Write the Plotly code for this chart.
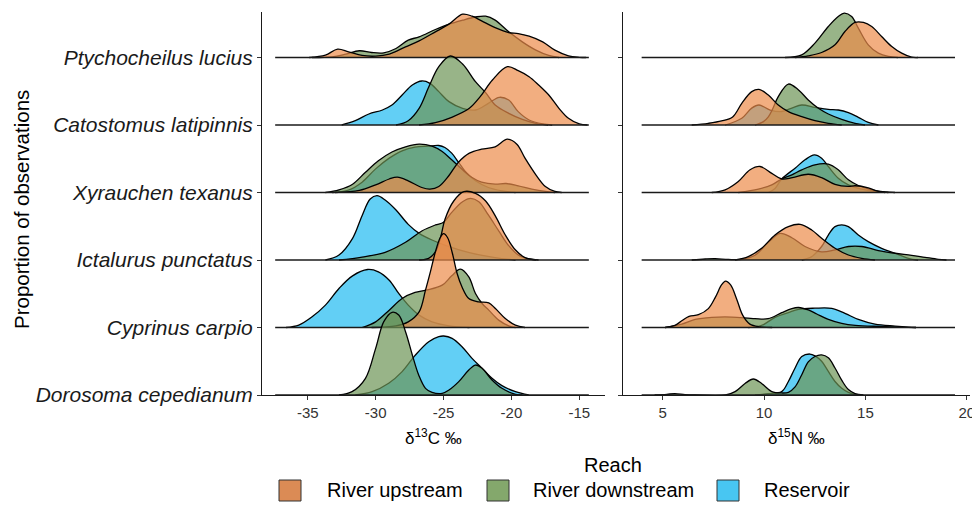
import plotly.graph_objects as go

# ---------------- DATA ----------------
SPECIES = ["Dorosoma cepedianum", "Cyprinus carpio", "Ictalurus punctatus",
           "Xyrauchen texanus", "Catostomus latipinnis", "Ptychocheilus lucius"]  # bottom -> top
REACHES = ["River upstream", "River downstream", "Reservoir"]
X_TICKS_C = [-35, -30, -25, -20, -15]
X_TICKS_N = [5, 10, 15, 20]
C_DATA_RANGE = [-37.4, -14.3]
N_DATA_RANGE = [3.96, 19.42]

# density curves: (x, scaled density) pairs; scale 1 = spacing between species rows
# ---- delta 13C ----
c13_ptychocheilus_upstream = [(-34.9, 0), (-33.7, 0.035), (-32.8, 0.123), (-32.0, 0.084), (-31.0, 0.03), (-30.0, 0.02),
                              (-29.0, 0.05), (-27.8, 0.158), (-26.8, 0.247), (-25.6, 0.38), (-24.6, 0.494), (-23.6, 0.642),
                              (-22.9, 0.612), (-22.2, 0.543), (-21.2, 0.444), (-20.2, 0.37), (-19.5, 0.355), (-18.7, 0.316),
                              (-17.7, 0.232), (-16.8, 0.109), (-15.8, 0.025), (-15.0, 0.003), (-14.5, 0)]
c13_ptychocheilus_downstream = [(-34.7, 0), (-33.2, 0.01), (-32.2, 0.05), (-31.2, 0.1), (-30.3, 0.074), (-29.4, 0.069),
                                (-28.5, 0.133), (-27.6, 0.257), (-26.8, 0.306), (-25.6, 0.415), (-24.6, 0.494), (-23.6, 0.553),
                                (-22.65, 0.6), (-21.9, 0.612), (-21.2, 0.553), (-20.2, 0.38), (-19.2, 0.232), (-18.2, 0.109),
                                (-17.25, 0.03), (-16.5, 0)]
c13_catostomus_upstream = [(-26.8, 0), (-25.6, 0.035), (-24.4, 0.114), (-23.1, 0.247), (-22.3, 0.42), (-21.4, 0.667),
                           (-20.3, 0.864), (-19.5, 0.805), (-18.7, 0.716), (-18.0, 0.593), (-17.25, 0.444), (-16.5, 0.247),
                           (-15.8, 0.099), (-15.0, 0.015), (-14.4, 0)]
c13_catostomus_downstream = [(-28.5, 0), (-27.6, 0.064), (-26.8, 0.247), (-26.1, 0.558), (-25.35, 0.864), (-24.5, 1.022),
                             (-23.6, 0.904), (-22.65, 0.642), (-21.9, 0.479), (-21.2, 0.296), (-20.2, 0.173), (-19.2, 0.084),
                             (-18.2, 0.025), (-17.3, 0)]
c13_catostomus_reservoir = [(-32.5, 0), (-31.5, 0.064), (-30.5, 0.163), (-29.5, 0.222), (-28.8, 0.296), (-28.05, 0.444),
                            (-27.3, 0.593), (-26.6, 0.652), (-26.0, 0.617), (-25.35, 0.494), (-24.6, 0.346), (-23.6, 0.247),
                            (-22.65, 0.222), (-21.7, 0.321), (-20.9, 0.41), (-20.2, 0.37), (-19.5, 0.198), (-18.7, 0.074),
                            (-17.7, 0.015), (-17.0, 0)]
c13_xyrauchen_upstream = [(-33.0, 0), (-31.2, 0.03), (-30.0, 0.114), (-29.0, 0.2), (-28.4, 0.227), (-27.6, 0.173),
                          (-26.6, 0.074), (-26.0, 0.05), (-25.35, 0.089), (-24.6, 0.252), (-23.9, 0.449), (-23.1, 0.583),
                          (-22.2, 0.642), (-21.2, 0.677), (-20.3, 0.79), (-19.6, 0.716), (-19.0, 0.509), (-18.2, 0.262),
                          (-17.5, 0.089), (-16.8, 0.015), (-16.3, 0)]
c13_xyrauchen_downstream = [(-33.7, 0), (-32.7, 0.04), (-31.7, 0.123), (-30.75, 0.30), (-29.8, 0.47), (-28.8, 0.60),
                            (-27.8, 0.677), (-26.8, 0.716), (-25.85, 0.686), (-25.1, 0.607), (-24.4, 0.484), (-23.6, 0.336),
                            (-22.9, 0.222), (-22.2, 0.153), (-21.2, 0.123), (-20.4, 0.133), (-19.5, 0.099), (-18.5, 0.05),
                            (-17.5, 0.015), (-16.8, 0)]
c13_xyrauchen_reservoir = [(-33.2, 0), (-32.0, 0.035), (-31.0, 0.153), (-30.0, 0.35), (-29.0, 0.509), (-28.05, 0.617),
                           (-27.1, 0.672), (-26.1, 0.686), (-25.35, 0.696), (-24.9, 0.667), (-24.4, 0.583), (-23.9, 0.449),
                           (-23.4, 0.311), (-22.65, 0.173), (-21.7, 0.074), (-20.7, 0.025), (-19.7, 0)]
c13_ictalurus_upstream = [(-26.8, 0), (-26.1, 0.025), (-25.6, 0.12), (-25.2, 0.35), (-24.9, 0.6), (-24.25, 0.874),
                          (-23.5, 1.012), (-22.65, 0.988), (-21.9, 0.874), (-21.2, 0.657), (-20.45, 0.37), (-19.7, 0.148),
                          (-19.0, 0.035), (-18.2, 0)]
c13_ictalurus_downstream = [(-32.7, 0), (-31.0, 0.044), (-29.3, 0.114), (-27.8, 0.262), (-26.6, 0.43), (-25.6, 0.519),
                            (-25.0, 0.558), (-24.4, 0.706), (-23.6, 0.864), (-23.0, 0.914), (-22.4, 0.864), (-21.7, 0.667),
                            (-20.9, 0.42), (-20.2, 0.212), (-19.5, 0.074), (-18.7, 0.015), (-18.0, 0)]
c13_ictalurus_reservoir = [(-33.7, 0), (-32.7, 0.074), (-31.7, 0.321), (-31.0, 0.657), (-30.4, 0.904), (-29.9, 0.953),
                           (-29.3, 0.889), (-28.5, 0.741), (-27.6, 0.528), (-26.8, 0.395), (-25.85, 0.296), (-24.6, 0.198),
                           (-23.1, 0.109), (-21.2, 0.035), (-19.7, 0)]
c13_cyprinus_upstream = [(-30.3, 0), (-28.5, 0.025), (-27.6, 0.084), (-26.8, 0.232), (-26.33, 0.553), (-25.97, 0.825),
                         (-25.6, 1.12), (-25.25, 1.33), (-25.0, 1.39), (-24.7, 1.33), (-24.35, 1.1), (-24.0, 0.8),
                         (-23.64, 0.6), (-23.14, 0.43), (-22.41, 0.38), (-21.67, 0.365), (-21.18, 0.281), (-20.45, 0.133),
                         (-19.71, 0.035), (-19.0, 0)]
c13_cyprinus_downstream = [(-31.0, 0), (-30.0, 0.084), (-29.0, 0.257), (-28.05, 0.43), (-27.1, 0.519), (-26.3, 0.553),
                           (-25.1, 0.627), (-24.4, 0.765), (-23.76, 0.864), (-23.14, 0.75), (-22.65, 0.504), (-22.16, 0.356),
                           (-21.67, 0.257), (-20.94, 0.109), (-20.2, 0.025), (-19.7, 0)]
c13_cyprinus_reservoir = [(-36.6, 0), (-35.66, 0.035), (-34.68, 0.158), (-33.7, 0.331), (-32.7, 0.578), (-31.7, 0.765),
                          (-30.6, 0.859), (-29.8, 0.825), (-29.0, 0.701), (-28.3, 0.504), (-27.6, 0.331), (-26.8, 0.183),
                          (-25.85, 0.084), (-24.6, 0.025), (-23.1, 0)]
c13_dorosoma_downstream = [(-32.7, 0), (-31.74, 0.049), (-30.75, 0.247), (-30.0, 0.691), (-29.4, 1.086), (-28.79, 1.225),
                           (-28.3, 1.185), (-27.8, 0.938), (-27.3, 0.593), (-26.83, 0.296), (-26.33, 0.099), (-25.85, 0.04),
                           (-25.1, 0.025), (-24.6, 0.074), (-23.88, 0.198), (-23.14, 0.37), (-22.65, 0.444), (-22.16, 0.395),
                           (-21.43, 0.222), (-20.7, 0.099), (-19.7, 0.01), (-19.2, 0)]
c13_dorosoma_reservoir = [(-31.5, 0), (-30.26, 0.049), (-29.04, 0.173), (-28.05, 0.346), (-27.07, 0.593), (-26.09, 0.79),
                          (-25.35, 0.864), (-24.99, 0.874), (-24.37, 0.84), (-23.64, 0.716), (-22.9, 0.543), (-22.16, 0.395),
                          (-21.43, 0.247), (-20.7, 0.138), (-19.7, 0.049), (-18.73, 0)]

# ---- delta 15N ----
n15_ptychocheilus_upstream = [(11.53, 0), (12.18, 0.025), (12.84, 0.074), (13.5, 0.188), (13.99, 0.385), (14.49, 0.519),
                              (14.9, 0.519), (15.31, 0.459), (15.8, 0.311), (16.3, 0.163), (16.79, 0.064), (17.28, 0.005),
                              (17.6, 0)]
n15_ptychocheilus_downstream = [(11.03, 0), (11.86, 0.04), (12.51, 0.213), (13.17, 0.459), (13.66, 0.607), (13.96, 0.657),
                                (14.32, 0.607), (14.65, 0.435), (15.14, 0.188), (15.64, 0.064), (16.13, 0.015), (16.6, 0)]
n15_catostomus_upstream = [(6.43, 0), (7.25, 0.025), (7.9, 0.06), (8.45, 0.12), (8.9, 0.321), (9.39, 0.494), (9.75, 0.528),
                           (10.21, 0.444), (10.7, 0.296), (11.2, 0.198), (11.86, 0.123), (12.51, 0.064), (13.17, 0.025),
                           (13.83, 0)]
n15_catostomus_downstream = [(9.55, 0), (9.97, 0.05), (10.21, 0.12), (10.4, 0.222), (10.7, 0.42), (11.2, 0.607),
                             (11.7, 0.519), (12.18, 0.37), (12.68, 0.247), (13.17, 0.163), (13.83, 0.084), (14.49, 0.025),
                             (14.98, 0)]
n15_catostomus_reservoir = [(8.08, 0), (8.9, 0.1), (9.39, 0.25), (9.75, 0.296), (10.3, 0.222), (10.87, 0.2), (11.37, 0.25),
                            (11.86, 0.296), (12.51, 0.262), (13.17, 0.232), (13.66, 0.222), (14.16, 0.183), (14.65, 0.114),
                            (15.14, 0.04), (15.64, 0)]
n15_xyrauchen_upstream = [(7.42, 0), (8.08, 0.04), (8.73, 0.163), (9.31, 0.336), (9.8, 0.385), (10.38, 0.284), (10.87, 0.2),
                          (11.4, 0.22), (12.18, 0.27), (12.84, 0.22), (13.5, 0.12), (14.16, 0.09), (14.49, 0.1),
                          (15.14, 0.07), (15.64, 0.015), (15.97, 0)]
n15_xyrauchen_downstream = [(8.73, 0), (9.72, 0.05), (10.38, 0.114), (10.87, 0.2), (11.37, 0.262), (11.86, 0.336),
                            (12.51, 0.41), (13.17, 0.42), (13.66, 0.336), (14.16, 0.188), (14.65, 0.104), (15.3, 0.04),
                            (15.97, 0.01), (16.46, 0)]
n15_xyrauchen_reservoir = [(10.21, 0), (10.54, 0.06), (10.87, 0.2), (11.53, 0.36), (12.02, 0.484), (12.48, 0.558),
                           (12.84, 0.509), (13.17, 0.385), (13.66, 0.212), (14.16, 0.114), (14.82, 0.05), (15.47, 0.015),
                           (16.13, 0)]
n15_ictalurus_upstream = [(8.57, 0), (9.22, 0.05), (9.88, 0.173), (10.54, 0.37), (11.2, 0.494), (11.78, 0.528),
                          (12.35, 0.444), (12.84, 0.321), (13.5, 0.173), (14.16, 0.074), (14.82, 0.025), (15.47, 0)]
n15_ictalurus_downstream = [(6.43, 0), (7.1, 0.015), (7.58, 0.02), (8.24, 0.008), (8.9, 0.01), (9.55, 0.07), (10.21, 0.262),
                            (10.79, 0.395), (11.37, 0.33), (12.02, 0.2), (12.84, 0.12), (13.5, 0.15), (14.16, 0.2),
                            (14.82, 0.2), (15.64, 0.14), (16.46, 0.1), (17.28, 0.07), (17.94, 0.04), (18.6, 0.01), (19.0, 0)]
n15_ictalurus_reservoir = [(11.86, 0), (12.35, 0.05), (12.84, 0.2), (13.17, 0.37), (13.5, 0.494), (13.83, 0.519),
                           (14.16, 0.494), (14.65, 0.37), (15.14, 0.272), (15.8, 0.173), (16.46, 0.1), (17.12, 0.025),
                           (17.6, 0)]
n15_cyprinus_upstream = [(5.12, 0), (5.6, 0.03), (5.94, 0.1), (6.3, 0.165), (6.76, 0.19), (7.25, 0.28), (7.6, 0.45),
                         (7.9, 0.63), (8.1, 0.686), (8.35, 0.63), (8.65, 0.42), (8.95, 0.18), (9.3, 0.05), (9.8, 0.01),
                         (10.4, 0)]
n15_cyprinus_downstream = [(5.12, 0), (5.94, 0.05), (6.6, 0.12), (7.42, 0.15), (8.41, 0.155), (9.55, 0.13), (10.2, 0.13),
                           (10.87, 0.22), (11.37, 0.28), (11.7, 0.296), (12.18, 0.26), (12.6, 0.2), (13.17, 0.12),
                           (13.83, 0.06), (14.5, 0.03), (15.8, 0.015), (17.12, 0.003), (17.5, 0)]
n15_cyprinus_reservoir = [(9.22, 0), (9.88, 0.03), (10.54, 0.15), (11.2, 0.22), (11.7, 0.27), (12.51, 0.286),
                          (13.34, 0.283), (13.99, 0.21), (14.65, 0.12), (15.47, 0.05), (16.46, 0.02), (17.12, 0.005),
                          (17.5, 0)]
n15_dorosoma_downstream = [(4.6, 0), (5.2, 0.01), (5.6, 0.02), (6.1, 0.005), (6.6, 0), (8.1, 0), (8.57, 0.05),
                           (9.06, 0.17), (9.47, 0.237), (9.88, 0.17), (10.38, 0.05), (10.87, 0.03), (11.2, 0.04),
                           (11.53, 0.12), (11.86, 0.3), (12.18, 0.49), (12.51, 0.57), (12.84, 0.593), (13.17, 0.55),
                           (13.5, 0.4), (13.83, 0.22), (14.16, 0.08), (14.49, 0.02), (14.9, 0)]
n15_dorosoma_reservoir = [(9.55, 0), (10.21, 0.02), (10.87, 0.05), (11.2, 0.2), (11.53, 0.4), (11.86, 0.57),
                          (12.26, 0.607), (12.51, 0.58), (12.84, 0.5), (13.17, 0.35), (13.5, 0.2), (13.83, 0.1),
                          (14.16, 0.04), (14.6, 0)]

# ---------------- lookup tables built from the named lists ----------------
C13 = {
    ("Ptychocheilus lucius", "River upstream"): c13_ptychocheilus_upstream,
    ("Ptychocheilus lucius", "River downstream"): c13_ptychocheilus_downstream,
    ("Catostomus latipinnis", "River upstream"): c13_catostomus_upstream,
    ("Catostomus latipinnis", "River downstream"): c13_catostomus_downstream,
    ("Catostomus latipinnis", "Reservoir"): c13_catostomus_reservoir,
    ("Xyrauchen texanus", "River upstream"): c13_xyrauchen_upstream,
    ("Xyrauchen texanus", "River downstream"): c13_xyrauchen_downstream,
    ("Xyrauchen texanus", "Reservoir"): c13_xyrauchen_reservoir,
    ("Ictalurus punctatus", "River upstream"): c13_ictalurus_upstream,
    ("Ictalurus punctatus", "River downstream"): c13_ictalurus_downstream,
    ("Ictalurus punctatus", "Reservoir"): c13_ictalurus_reservoir,
    ("Cyprinus carpio", "River upstream"): c13_cyprinus_upstream,
    ("Cyprinus carpio", "River downstream"): c13_cyprinus_downstream,
    ("Cyprinus carpio", "Reservoir"): c13_cyprinus_reservoir,
    ("Dorosoma cepedianum", "River downstream"): c13_dorosoma_downstream,
    ("Dorosoma cepedianum", "Reservoir"): c13_dorosoma_reservoir,
}
N15 = {
    ("Ptychocheilus lucius", "River upstream"): n15_ptychocheilus_upstream,
    ("Ptychocheilus lucius", "River downstream"): n15_ptychocheilus_downstream,
    ("Catostomus latipinnis", "River upstream"): n15_catostomus_upstream,
    ("Catostomus latipinnis", "River downstream"): n15_catostomus_downstream,
    ("Catostomus latipinnis", "Reservoir"): n15_catostomus_reservoir,
    ("Xyrauchen texanus", "River upstream"): n15_xyrauchen_upstream,
    ("Xyrauchen texanus", "River downstream"): n15_xyrauchen_downstream,
    ("Xyrauchen texanus", "Reservoir"): n15_xyrauchen_reservoir,
    ("Ictalurus punctatus", "River upstream"): n15_ictalurus_upstream,
    ("Ictalurus punctatus", "River downstream"): n15_ictalurus_downstream,
    ("Ictalurus punctatus", "Reservoir"): n15_ictalurus_reservoir,
    ("Cyprinus carpio", "River upstream"): n15_cyprinus_upstream,
    ("Cyprinus carpio", "River downstream"): n15_cyprinus_downstream,
    ("Cyprinus carpio", "Reservoir"): n15_cyprinus_reservoir,
    ("Dorosoma cepedianum", "River downstream"): n15_dorosoma_downstream,
    ("Dorosoma cepedianum", "Reservoir"): n15_dorosoma_reservoir,
}

# ---------------- styling ----------------
FONT = "Liberation Sans, Arial, Helvetica, sans-serif"
BASE_COLORS = {"River upstream": (236, 139, 74), "River downstream": (108, 148, 85), "Reservoir": (32, 186, 241)}
ALPHA = 0.7
KEY_COLORS = {"River upstream": "#DB8B55", "River downstream": "#84A86C", "Reservoir": "#48C6F2"}
DRAW_ORDER = ["Reservoir", "River downstream", "River upstream"]

OFF = 8                      # page body margin: the figure starts at page (8, 8)
W, H = 980 - OFF, 510 - OFF
ML, MT = 262 - OFF, 12 - OFF           # plot area left/top in figure px
PLOT_R, PLOT_B = 975 - OFF, 395 - OFF  # plot area right/bottom in figure px
MR, MB = W - PLOT_R, H - PLOT_B
PW, PH = PLOT_R - ML, PLOT_B - MT


def px_x(p):  # page px -> paper
    return (p - OFF - ML) / PW


def px_y(p):
    return (PLOT_B - (p - OFF)) / PH


fig = go.Figure()

for row in range(len(SPECIES) - 1, -1, -1):
    sp = SPECIES[row]
    for table, xa, ya, rng in ((C13, "x", "y", C_DATA_RANGE), (N15, "x2", "y2", N_DATA_RANGE)):
        for reach in DRAW_ORDER:
            pts = table.get((sp, reach))
            if pts is None:
                continue
            r, g, b = BASE_COLORS[reach]
            fig.add_trace(go.Scatter(
                x=[p[0] for p in pts], y=[row + p[1] for p in pts],
                mode="lines", fill="toself",
                fillcolor=f"rgba({r},{g},{b},{ALPHA})",
                line=dict(color="black", width=1.3, shape="spline", smoothing=1.0),
                xaxis=xa, yaxis=ya, hoverinfo="skip", showlegend=False))
        fig.add_trace(go.Scatter(
            x=rng, y=[row, row], mode="lines",
            line=dict(color="#1a1a1a", width=1.3),
            xaxis=xa, yaxis=ya, hoverinfo="skip", showlegend=False))

axis_common = dict(showgrid=False, zeroline=False, showline=True, linecolor="#1a1a1a", linewidth=1.1,
                   ticks="outside", ticklen=4, tickcolor="#333333", tickwidth=1.1,
                   tickfont=dict(family=FONT, size=15, color="#333333"))
YMAX = 5.674

fig.update_layout(
    width=W, height=H, margin=dict(l=ML, r=MR, t=MT, b=MB, autoexpand=False),
    paper_bgcolor="white", plot_bgcolor="white", showlegend=False,
    xaxis=dict(domain=[0, px_x(605)], range=[-38.37, -13.11], tickvals=X_TICKS_C,
               ticktext=[str(v) for v in X_TICKS_C], anchor="y", **axis_common),
    xaxis2=dict(domain=[px_x(623), px_x(970)], range=[3.04, 20.16], tickvals=X_TICKS_N,
                ticktext=[str(v) for v in X_TICKS_N], anchor="y2", **axis_common),
    yaxis=dict(domain=[0, 1], range=[0, YMAX], tickvals=list(range(len(SPECIES))),
               ticktext=[f"<i>{s}</i>" for s in SPECIES], anchor="x",
               **{**axis_common, "tickfont": dict(family=FONT, size=21, color="#1a1a1a")}),
    yaxis2=dict(domain=[0, 1], range=[0, YMAX], tickvals=list(range(len(SPECIES))),
                showticklabels=False, anchor="x2", matches="y", **axis_common),
)

ann = [
    dict(text="Proportion of observations", x=px_x(22), y=px_y(210), textangle=-90,
         font=dict(family=FONT, size=20.5, color="black")),
    dict(text="δ<sup>13</sup>C ‰", x=px_x(433.5), y=px_y(437), font=dict(family=FONT, size=17, color="black")),
    dict(text="δ<sup>15</sup>N ‰", x=px_x(796.5), y=px_y(437), font=dict(family=FONT, size=17, color="black")),
    dict(text="Reach", x=px_x(613), y=px_y(465), font=dict(family=FONT, size=20, color="black")),
]
legend_boxes = [(279, 301, 325), (487, 509, 531), (717, 739, 762)]
for reach, (b0, b1, tx) in zip(REACHES, legend_boxes):
    fig.add_shape(type="rect", xref="paper", yref="paper", x0=px_x(b0), x1=px_x(b1),
                  y0=px_y(501), y1=px_y(480), fillcolor=KEY_COLORS[reach],
                  line=dict(color="#333333", width=1))
    ann.append(dict(text=reach, x=px_x(tx), y=px_y(490), xanchor="left",
                    font=dict(family=FONT, size=20, color="black")))
for a in ann:
    a.setdefault("xanchor", "center")
    fig.add_annotation(xref="paper", yref="paper", showarrow=False, yanchor="middle", **a)

fig.write_html("out.html")
